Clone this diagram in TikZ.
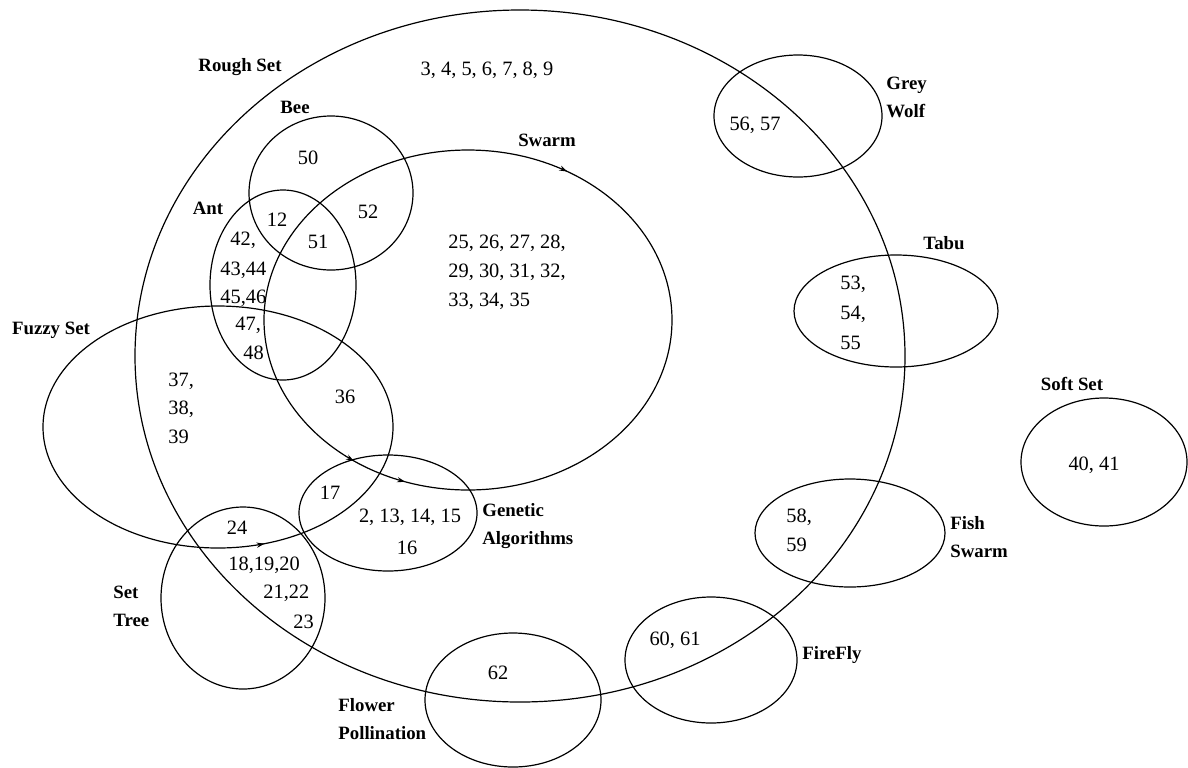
\documentclass[tikz,border=0pt]{standalone}
\usepackage{fontspec}
\setmainfont{Liberation Serif}
\usetikzlibrary{shapes.geometric,decorations.markings,arrows.meta}
\tikzset{smalltip/.tip={Stealth[length=4pt,width=2.6pt]}}
\begin{document}
\begin{tikzpicture}[x=0.5pt,y=-0.5pt,
  set/.style={ellipse, draw, line width=0.6pt, inner sep=0pt, outer sep=0pt},
  lbl/.style={font=\fontsize{9.4}{14}\selectfont\bfseries, inner sep=0pt, align=left},
  num/.style={font=\fontsize{10.2}{14.6}\selectfont, inner sep=0pt, align=left}]
\useasboundingbox (0,0) rectangle (1188,767);

% the sets (size in pt = radius in picture units)
\node[set, minimum width=385pt, minimum height=346pt] (rough)   at (520,356) {};
\node[set, minimum width=204pt, minimum height=170pt,
      postaction={decorate, decoration={markings,
        mark=at position 0.163 with {\arrowreversed{smalltip}},
        mark=at position 0.649 with {\arrow{smalltip}},
        mark=at position 0.696 with {\arrow{smalltip}}}}] (swarm) at (468,320) {};
\node[set, minimum width=82pt,  minimum height=77pt]  (bee)     at (331,193) {};
\node[set, minimum width=73pt,  minimum height=95pt]  (ant)     at (283,285) {};
\node[set, minimum width=175pt, minimum height=121pt,
      postaction={decorate, decoration={markings,
        mark=at position 0.80 with {\arrow{smalltip}}}}] (fuzzy) at (218,427) {};
\node[set, minimum width=89pt,  minimum height=58pt]  (genetic) at (388,513) {};
\node[set, minimum width=82pt,  minimum height=91pt]  (settree) at (243,598) {};
\node[set, minimum width=88pt,  minimum height=67pt]  (flower)  at (513,700) {};
\node[set, minimum width=84pt,  minimum height=61pt]  (wolf)    at (798,116) {};
\node[set, minimum width=102pt, minimum height=56pt]  (tabu)    at (896,311) {};
\node[set, minimum width=95pt,  minimum height=54pt]  (fish)    at (850,533) {};
\node[set, minimum width=86pt,  minimum height=63pt]  (firefly) at (711,660) {};
\node[set, minimum width=83pt,  minimum height=64pt]  (soft)    at (1104,462) {};

% set names
\node[lbl] (l-rough) at (240,67) {Rough Set};
\node[lbl] (l-bee) at (295,107) {Bee};
\node[lbl] (l-swarm) at (547,140) {Swarm};
\node[lbl] (l-ant) at (208,208) {Ant};
\node[lbl] (l-fuzzy) at (51,330) {Fuzzy Set};
\node[lbl, anchor=west] (l-genetic) at (482,526) {Genetic\\Algorithms};
\node[lbl, anchor=west] (l-settree) at (113,606) {Set\\Tree};
\node[lbl, anchor=west] (l-flower) at (338,719) {Flower\\Pollination};
\node[lbl, anchor=west] (l-wolf) at (886,97.5) {Grey\\Wolf};
\node[lbl] (l-tabu) at (944,243) {Tabu};
\node[lbl] (l-soft) at (1072,384) {Soft Set};
\node[lbl, anchor=west] (l-fish) at (950,537) {Fish\\Swarm};
\node[lbl] (l-firefly) at (832,655) {FireFly};

% references in each region
\node[num] (n-rough) at (487,70) {3, 4, 5, 6, 7, 8, 9};
\node[num] (n-bee) at (308,158) {50};
\node[num] (n-beeant) at (277,220) {12};
\node[num] (n-beeswarm) at (368,212) {52};
\node[num] (n-beeantswarm) at (318,242) {51};
\node[num, anchor=west] (n-ant1) at (230,240) {42,};
\node[num, anchor=west] (n-ant2) at (220,270) {43,44};
\node[num, anchor=west] (n-ant3) at (220,298) {45,46};
\node[num, anchor=west] (n-ant4) at (235,325) {47,};
\node[num, anchor=west] (n-ant5) at (243,353) {48};
\node[num, anchor=west] (n-swarm) at (448,272.5) {25, 26, 27, 28,\\29, 30, 31, 32,\\33, 34, 35};
\node[num, anchor=west, font=\fontsize{10.2}{14.2}\selectfont] (n-fuzzy) at (168,408) {37,\\38,\\39};
\node[num] (n-fuzzyswarm) at (345,397) {36};
\node[num] (n-fuzzygen) at (330,493) {17};
\node[num] (n-gen) at (410,517) {2, 13, 14, 15};
\node[num] (n-gen2) at (407,548) {16};
\node[num] (n-fuzzytree) at (237,528) {24};
\node[num, anchor=west] (n-tree1) at (228,565) {18,19,20};
\node[num, anchor=west] (n-tree2) at (263,593) {21,22};
\node[num, anchor=west] (n-tree3) at (293,622) {23};
\node[num] (n-flower) at (498,673) {62};
\node[num] (n-wolf) at (755,125) {56, 57};
\node[num, anchor=west, font=\fontsize{10.2}{15}\selectfont] (n-tabu) at (840,312.5) {53,\\54,\\55};
\node[num] (n-soft) at (1094,465) {40, 41};
\node[num, anchor=west] (n-fish) at (786,530) {58,\\59};
\node[num] (n-firefly) at (675,640) {60, 61};
\end{tikzpicture}
\end{document}
